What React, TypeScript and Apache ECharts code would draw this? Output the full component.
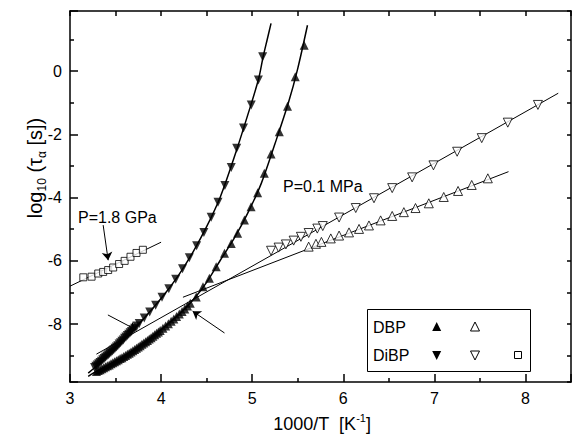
import React, { useEffect, useRef } from 'react';
import * as echarts from 'echarts';

// ---- data ----
// DBP, P = 0.1 MPa, supercooled liquid (filled up-triangles)
const dbpLiquid: [number, number][] = [
  [5.571, 0.82], [5.473, -0.18], [5.388, -1.11], [5.298, -1.92], [5.207, -2.62], [5.133, -3.23],
  [5.06, -3.85], [4.988, -4.29], [4.915, -4.71], [4.84, -5.13], [4.77, -5.45], [4.696, -5.76],
  [4.605, -6.19], [4.53, -6.55], [4.46, -6.82], [4.386, -7.14],
  [4.32, -7.34], [4.29, -7.43], [4.26, -7.52], [4.23, -7.6], [4.2, -7.68], [4.17, -7.76],
  [4.14, -7.84], [4.11, -7.91], [4.08, -7.99], [4.05, -8.06], [4.02, -8.13], [3.99, -8.2],
  [3.97, -8.25], [3.95, -8.29], [3.93, -8.34], [3.91, -8.38], [3.89, -8.43], [3.87, -8.47],
  [3.85, -8.52], [3.83, -8.56], [3.81, -8.6], [3.79, -8.64], [3.77, -8.68], [3.75, -8.72],
  [3.73, -8.76], [3.71, -8.8], [3.69, -8.84], [3.67, -8.88], [3.65, -8.92], [3.63, -8.95],
  [3.61, -8.99], [3.59, -9.02], [3.57, -9.06], [3.55, -9.09], [3.53, -9.13], [3.51, -9.16],
  [3.49, -9.19], [3.47, -9.22], [3.45, -9.25], [3.43, -9.29], [3.41, -9.32], [3.39, -9.35],
  [3.37, -9.38], [3.35, -9.41], [3.33, -9.44], [3.31, -9.47], [3.29, -9.5],
];
// DiBP, P = 0.1 MPa, supercooled liquid (filled down-triangles)
const dibpLiquid: [number, number][] = [
  [5.115, 0.45], [5.068, -0.28], [4.99, -1.07], [4.905, -1.8], [4.83, -2.44], [4.77, -3.05],
  [4.7, -3.62], [4.625, -4.15], [4.55, -4.62], [4.47, -5.1], [4.39, -5.52], [4.31, -5.9],
  [4.235, -6.25], [4.16, -6.58], [4.085, -6.88], [4.01, -7.15], [3.94, -7.4], [3.875, -7.62],
  [3.815, -7.81], [3.76, -7.98], [3.735, -8.06], [3.71, -8.13], [3.69, -8.18], [3.675, -8.23],
  [3.66, -8.27], [3.645, -8.32], [3.63, -8.36], [3.615, -8.41], [3.6, -8.45], [3.585, -8.5],
  [3.57, -8.54], [3.555, -8.59], [3.54, -8.63], [3.525, -8.68], [3.51, -8.72], [3.495, -8.76],
  [3.48, -8.81], [3.465, -8.85], [3.45, -8.89], [3.435, -8.93], [3.42, -8.97], [3.405, -9.01],
  [3.39, -9.05], [3.375, -9.09], [3.36, -9.13], [3.345, -9.17], [3.33, -9.21], [3.315, -9.25],
  [3.3, -9.29], [3.285, -9.33], [3.27, -9.37],
];
// DBP glass (open up-triangles)
const dbpGlass: [number, number][] = [
  [5.62, -5.55], [5.7, -5.46], [5.76, -5.4], [5.863, -5.29], [5.954, -5.2], [6.063, -5.1],
  [6.173, -4.99], [6.282, -4.88], [6.41, -4.72], [6.537, -4.58], [6.665, -4.46], [6.793, -4.33],
  [6.939, -4.18], [7.103, -3.98], [7.26, -3.79], [7.41, -3.6], [7.587, -3.39],
];
// DiBP glass (open down-triangles)
const dibpGlass: [number, number][] = [
  [5.207, -5.68], [5.29, -5.58], [5.37, -5.48], [5.455, -5.36], [5.535, -5.24], [5.62, -5.12],
  [5.715, -4.98], [5.775, -4.9], [5.954, -4.63], [6.137, -4.33], [6.337, -4.02], [6.537, -3.7],
  [6.756, -3.36], [6.99, -2.98], [7.25, -2.55], [7.52, -2.12], [7.806, -1.63], [8.137, -1.07],
];
// DiBP, P = 1.8 GPa (open squares)
const dibpHighP: [number, number][] = [
  [3.146, -6.52], [3.237, -6.5], [3.31, -6.4], [3.364, -6.35], [3.419, -6.29], [3.474, -6.21],
  [3.539, -6.1], [3.6, -6.0], [3.664, -5.87], [3.73, -5.75], [3.8, -5.65],
];

// fit curves / lines
const dbpVFT: [number, number][] = [
  [3.2, -9.65], [3.3, -9.48], [3.45, -9.25], [3.6, -9.0], [3.75, -8.71], [3.9, -8.4], [4.05, -8.05],
  [4.2, -7.68], [4.35, -7.24], [4.5, -6.68], [4.65, -5.98], [4.8, -5.3], [4.95, -4.5], [5.1, -3.55],
  [5.25, -2.3], [5.4, -0.98], [5.5, 0.08], [5.607, 1.45],
];
const dibpVFT: [number, number][] = [
  [3.2, -9.55], [3.3, -9.3], [3.45, -8.9], [3.6, -8.45], [3.75, -8.01], [3.9, -7.53], [4.05, -7.01],
  [4.2, -6.42], [4.35, -5.72], [4.5, -4.92], [4.65, -3.98], [4.8, -2.75], [4.95, -1.4], [5.07, -0.25],
  [5.12, 0.45], [5.165, 1.0], [5.207, 1.51],
];
const dbpArrhenius: [number, number][] = [[4.24, -7.15], [7.814, -3.18]];
const dibpArrhenius: [number, number][] = [[3.29, -8.95], [8.36, -0.7]];
const highPLine: [number, number][] = [[3.0, -6.8], [4.0, -5.41]];

// annotation arrows: [from, to]
const arrows: [number, number][][] = [
  [[3.416, -7.71], [3.733, -8.19]],
  [[4.696, -8.28], [4.346, -7.59]],
  [[3.364, -4.87], [3.419, -5.98]],
];

const xMin = 3;
const xMax = 8.5;
const yMin = -9.83;
const yMax = 1.9;

const FONT = "'Liberation Sans', Arial, Helvetica, sans-serif";
const BLACK = '#000';

export default function App() {
  const ref = useRef<HTMLDivElement>(null);

  useEffect(() => {
    if (!ref.current) return;
    const chart = echarts.init(ref.current, undefined, { renderer: 'svg' });

    const lineStyle = { color: BLACK, width: 1.5 };
    const axisCommon = (len: number, minorLen: number) => ({
      axisLine: { show: true, onZero: false, lineStyle: { color: BLACK, width: 1.5 } },
      axisTick: { show: true, inside: true, length: len, lineStyle: { color: BLACK, width: 1.5 } },
      minorTick: { show: true, splitNumber: 2, length: minorLen, lineStyle: { color: BLACK, width: 1.5 } },
      splitLine: { show: false },
      minorSplitLine: { show: false },
    });

    const evenLabel = (v: number) => {
      const r = Math.round(v);
      return Math.abs(v - r) < 1e-6 && r % 2 === 0 ? String(r) : '';
    };
    const intLabel = (v: number) => {
      const r = Math.round(v);
      return Math.abs(v - r) < 1e-6 ? String(r) : '';
    };

    const openStyle = { color: '#fff', borderColor: BLACK, borderWidth: 1 };

    chart.setOption({
      animation: false,
      grid: { left: 70, right: 1, top: 11, bottom: 55, containLabel: false },
      xAxis: [
        {
          type: 'value', position: 'bottom', min: xMin, max: xMax, interval: 1,
          ...axisCommon(8, 4),
          axisLabel: { show: true, color: BLACK, fontSize: 16, fontFamily: FONT, margin: 8, formatter: intLabel },
        },
        {
          type: 'value', position: 'top', min: xMin, max: xMax, interval: 1,
          ...axisCommon(5, 5),
          axisLabel: { show: false },
        },
      ],
      yAxis: [
        {
          type: 'value', position: 'left', min: yMin, max: yMax, splitNumber: 6,
          ...axisCommon(8, 4),
          axisLabel: { show: true, color: BLACK, fontSize: 16, fontFamily: FONT, margin: 8, formatter: evenLabel },
        },
        {
          type: 'value', position: 'right', min: yMin, max: yMax, splitNumber: 6,
          ...axisCommon(4, 4),
          axisLabel: { show: false },
        },
      ],
      series: [
        { type: 'line', data: dibpVFT, smooth: 0.3, showSymbol: false, lineStyle, silent: true, z: 2 },
        { type: 'line', data: dbpVFT, smooth: 0.3, showSymbol: false, lineStyle, silent: true, z: 2 },
        { type: 'line', data: dbpArrhenius, showSymbol: false, lineStyle: { color: BLACK, width: 1 }, silent: true, z: 2 },
        {
          type: 'line', data: dibpArrhenius, showSymbol: false, lineStyle: { color: BLACK, width: 1 }, silent: true, z: 2,
          markLine: {
            silent: true,
            symbol: ['none', 'arrow'],
            symbolSize: 8,
            label: { show: false },
            lineStyle: { color: BLACK, width: 1, type: 'solid' },
            emphasis: { disabled: true },
            data: arrows.map((a) => [{ coord: a[0] }, { coord: a[1] }]),
          },
        },
        { type: 'line', data: highPLine, showSymbol: false, lineStyle: { color: BLACK, width: 1 }, silent: true, z: 2 },
        { type: 'scatter', data: dbpLiquid, symbol: 'triangle', symbolSize: 9, itemStyle: { color: BLACK }, silent: true, z: 3 },
        { type: 'scatter', data: dibpLiquid, symbol: 'triangle', symbolRotate: 180, symbolSize: 9, itemStyle: { color: BLACK }, silent: true, z: 3 },
        { type: 'scatter', data: dbpGlass, symbol: 'triangle', symbolSize: 9, itemStyle: openStyle, silent: true, z: 3 },
        { type: 'scatter', data: dibpGlass, symbol: 'triangle', symbolRotate: 180, symbolSize: 9, itemStyle: openStyle, silent: true, z: 3 },
        { type: 'scatter', data: dibpHighP, symbol: 'rect', symbolSize: 7, itemStyle: openStyle, silent: true, z: 3 },
      ],
      graphic: [
        {
          type: 'text', x: 35, y: 168, rotation: Math.PI / 2, silent: true,
          style: {
            text: '{n|log}{s|10}{n| (τ}{s|α}{n| [s])}',
            align: 'center', verticalAlign: 'middle', fill: BLACK,
            rich: {
              n: { fontSize: 20, fontFamily: FONT, lineHeight: 26, verticalAlign: 'middle', fill: BLACK },
              s: { fontSize: 12, fontFamily: FONT, lineHeight: 13, verticalAlign: 'bottom', fill: BLACK },
            },
          },
        },
        {
          type: 'text', x: 322, y: 424, silent: true,
          style: {
            text: '{n|1000/T  [K}{p|-1}{n|]}',
            align: 'center', verticalAlign: 'middle', fill: BLACK,
            rich: {
              n: { fontSize: 18, fontFamily: FONT, lineHeight: 24, verticalAlign: 'middle', fill: BLACK },
              p: { fontSize: 11, fontFamily: FONT, lineHeight: 12, verticalAlign: 'top', fill: BLACK },
            },
          },
        },
        {
          type: 'text', x: 283, y: 186, silent: true,
          style: { text: 'P=0.1 MPa', fontSize: 16, fontFamily: FONT, fill: BLACK, align: 'left', verticalAlign: 'middle' },
        },
        {
          type: 'text', x: 78, y: 217, silent: true,
          style: { text: 'P=1.8 GPa', fontSize: 16, fontFamily: FONT, fill: BLACK, align: 'left', verticalAlign: 'middle' },
        },
        // legend
        {
          type: 'group', silent: true, z: 100,
          children: [
            { type: 'rect', shape: { x: 367.5, y: 309.5, width: 163, height: 62 }, style: { fill: '#fff', stroke: BLACK, lineWidth: 1 } },
            { type: 'text', x: 373, y: 327, style: { text: 'DBP', fontSize: 16, fontFamily: FONT, fill: BLACK, verticalAlign: 'middle' } },
            { type: 'text', x: 373, y: 355, style: { text: 'DiBP', fontSize: 16, fontFamily: FONT, fill: BLACK, verticalAlign: 'middle' } },
            { type: 'polygon', shape: { points: [[432.2, 331], [441.2, 331], [436.7, 322]] }, style: { fill: BLACK } },
            { type: 'polygon', shape: { points: [[470.5, 331], [479.5, 331], [475, 322]] }, style: { fill: '#fff', stroke: BLACK, lineWidth: 1 } },
            { type: 'polygon', shape: { points: [[432.2, 351], [441.2, 351], [436.7, 360]] }, style: { fill: BLACK } },
            { type: 'polygon', shape: { points: [[470.5, 351], [479.5, 351], [475, 360]] }, style: { fill: '#fff', stroke: BLACK, lineWidth: 1 } },
            { type: 'rect', shape: { x: 514.5, y: 351.5, width: 7, height: 7 }, style: { fill: '#fff', stroke: BLACK, lineWidth: 1 } },
          ],
        },
      ],
    });

    return () => chart.dispose();
  }, []);

  return <div ref={ref} style={{ position: 'absolute', left: 0, top: 0, width: 574, height: 437 }} />;
}
